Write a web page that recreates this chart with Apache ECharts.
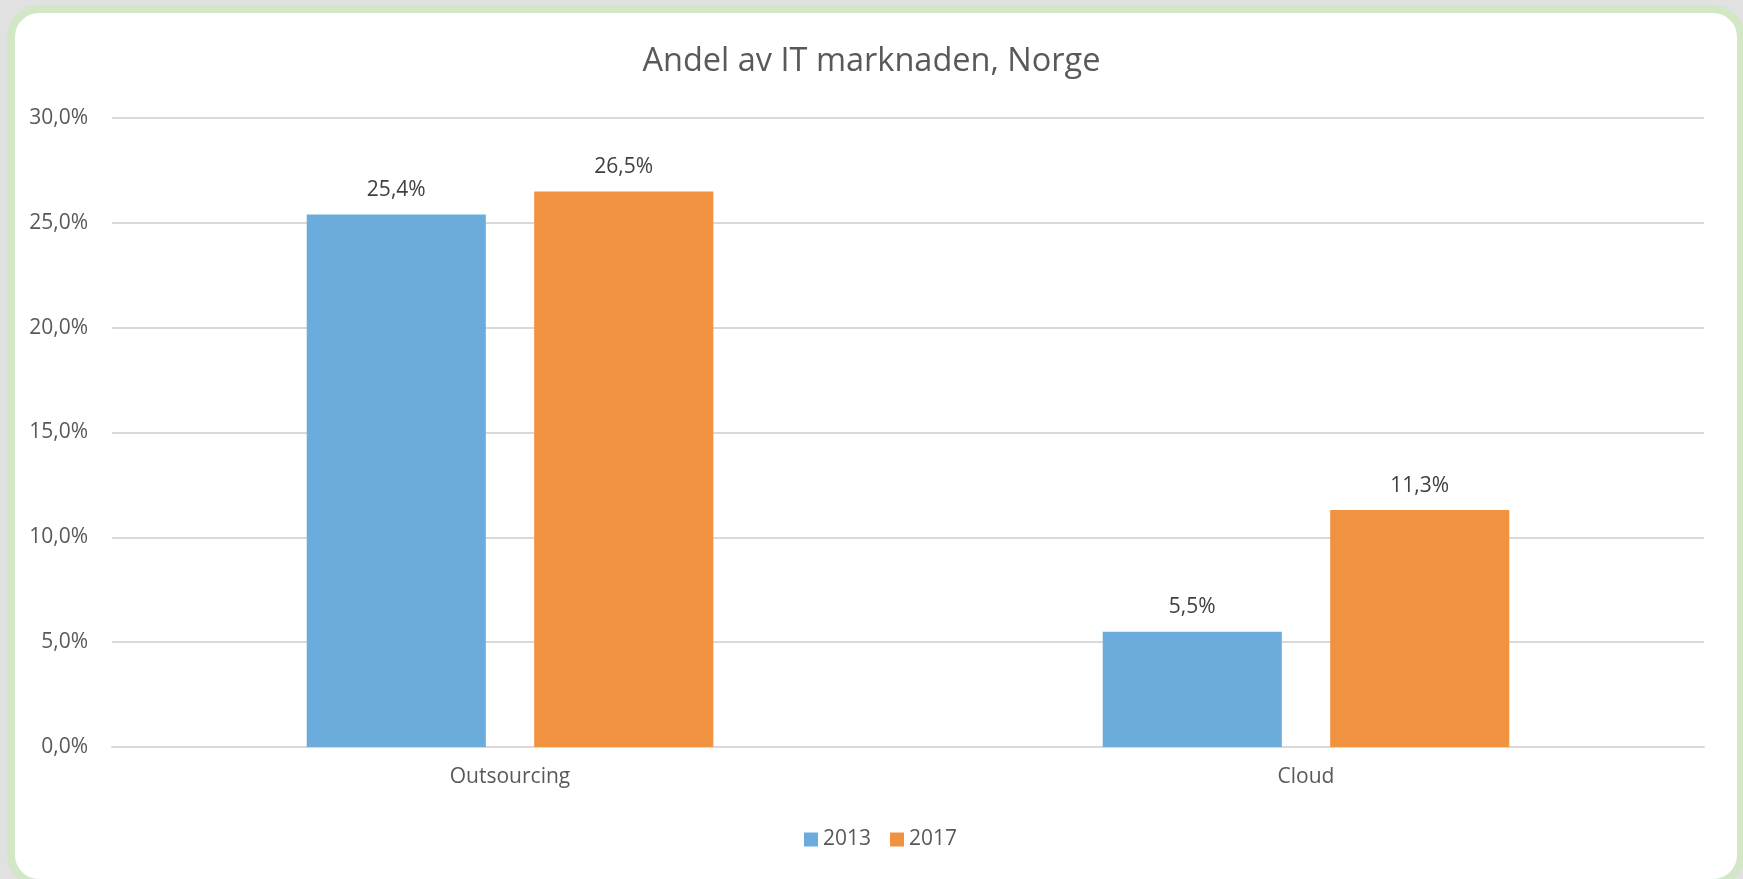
<!DOCTYPE html>
<html>
<head>
<meta charset="utf-8">
<script src="https://cdn.jsdelivr.net/npm/echarts@6/dist/echarts.min.js"></script>
<style>
  html, body { margin: 0; padding: 0; background: #e1e1e1; overflow: hidden; }
  #frame {
    position: absolute; left: 7px; top: 5px; width: 1738px; height: 882px;
    box-sizing: border-box; border: 8px solid #d1e7c6; border-radius: 32px; background: #fff;
  }
  #chart { position: absolute; left: 0; top: 0; width: 1743px; height: 879px; }
</style>
</head>
<body>
<div id="frame"></div>
<div id="chart"></div>
<script>
// data
const categories = ['Outsourcing', 'Cloud'];
const years = ['2013', '2017'];
const share2013 = [25.4, 5.5];
const share2017 = [26.5, 11.3];
const yTicks = { min: 0, max: 30, interval: 5 };

const fmt = v => v.toFixed(1).replace('.', ',') + '%';
const font = '"Open Sans", sans-serif';

const chart = echarts.init(document.getElementById('chart'));
chart.setOption({
  backgroundColor: 'transparent',
  animation: false,
  title: {
    text: 'Andel av IT marknaden, Norge',
    left: 'center',
    top: 40,
    textStyle: { fontFamily: font, fontSize: 32.5, fontWeight: 'normal', color: '#595959' }
  },
  legend: {
    data: years,
    bottom: 24,
    left: 799,
    itemWidth: 14,
    itemHeight: 14,
    itemGap: 19,
    icon: 'rect',
    textStyle: { fontFamily: font, fontSize: 21, color: '#595959' }
  },
  grid: { left: 112, right: 39, top: 118, bottom: 132, containLabel: false },
  xAxis: {
    type: 'category',
    data: categories,
    axisLine: { lineStyle: { color: '#d9d9d9', width: 2 } },
    axisTick: { show: false },
    axisLabel: { fontFamily: font, fontSize: 21, color: '#595959', margin: 20 }
  },
  yAxis: {
    type: 'value',
    min: yTicks.min,
    max: yTicks.max,
    interval: yTicks.interval,
    axisLine: { show: false },
    axisTick: { show: false },
    splitLine: { lineStyle: { color: '#d9d9d9', width: 2 } },
    axisLabel: { fontFamily: font, fontSize: 21, color: '#595959', margin: 24, formatter: fmt }
  },
  series: [
    {
      name: years[0], type: 'bar', data: share2013,
      barWidth: '22.5%', barGap: '27%',
      itemStyle: { color: '#6cacdc' },
      label: { show: true, position: 'top', distance: 14, formatter: p => fmt(p.value),
               fontFamily: font, fontSize: 21, color: '#404040' }
    },
    {
      name: years[1], type: 'bar', data: share2017,
      barWidth: '22.5%', barGap: '27%',
      itemStyle: { color: '#f19241' },
      label: { show: true, position: 'top', distance: 14, formatter: p => fmt(p.value),
               fontFamily: font, fontSize: 21, color: '#404040' }
    }
  ]
});
</script>
</body>
</html>
